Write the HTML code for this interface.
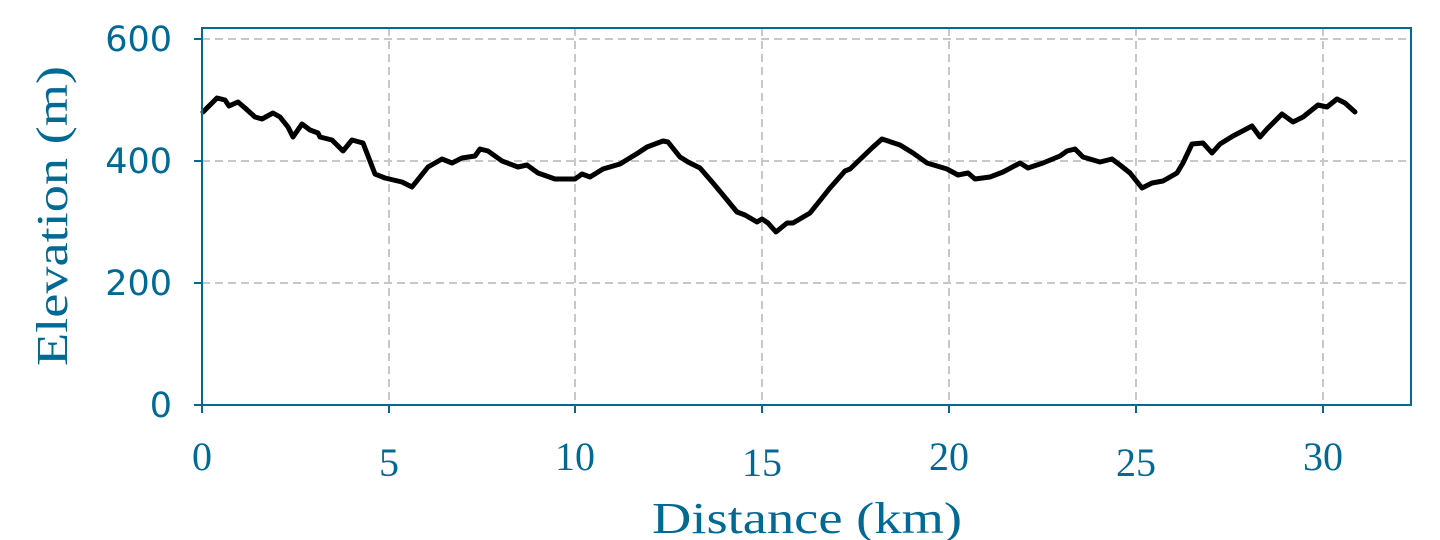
<!DOCTYPE html>
<html><head><meta charset="utf-8"><style>
html,body{margin:0;padding:0;background:#fff;width:1440px;height:540px;overflow:hidden}
</style></head><body>
<svg width="1440" height="540" xmlns="http://www.w3.org/2000/svg">
<g stroke="#c8c8c8" stroke-width="2" stroke-dasharray="8,5">
<line x1="389" y1="28" x2="389" y2="405"/><line x1="575" y1="28" x2="575" y2="405"/>
<line x1="762" y1="28" x2="762" y2="405"/><line x1="949" y1="28" x2="949" y2="405"/>
<line x1="1136" y1="28" x2="1136" y2="405"/><line x1="1323" y1="28" x2="1323" y2="405"/>
<line x1="202" y1="39" x2="1411" y2="39"/><line x1="202" y1="161" x2="1411" y2="161"/>
<line x1="202" y1="283" x2="1411" y2="283"/>
</g>
<polyline fill="none" stroke="#000" stroke-width="5" stroke-linejoin="round" stroke-linecap="round" points="
203,112 217,98 225,100 229,106 238,102 245,108 255,117 262,119 273,113 280,117 288,127 293,137 302,124 310,130 318,133 320,137 332,140 343,151 352,140 363,143 375,174 385,178 402,182 412,187 428,167 442,159 452,163 462,158 475,156 480,149 488,151 502,161 518,167 527,165 538,173 555,179 575,179 582,174 590,177 603,169 620,164 638,153 647,147 663,141 668,142 680,157 688,162 700,168 713,183 723,195 737,212 745,215 757,222 762,219 768,223 776,232 787,223 793,223 810,213 830,188 845,171 850,169 873,147 882,139 900,145 913,153 927,163 947,169 958,175 968,173 975,179 990,177 1003,172 1020,163 1028,168 1043,163 1060,156 1067,151 1075,149 1083,157 1100,162 1112,159 1120,165 1130,173 1142,188 1152,183 1163,181 1177,173 1183,163 1192,144 1203,143 1212,153 1220,144 1233,136 1252,126 1260,137 1267,129 1282,114 1293,122 1303,117 1318,105 1327,107 1337,99 1345,103 1355,112"/>
<rect x="202" y="28" width="1209" height="377" fill="none" stroke="#006994" stroke-width="2"/>
<g stroke="#006994" stroke-width="2">
<line x1="202" y1="405" x2="202" y2="413"/><line x1="389" y1="405" x2="389" y2="413"/><line x1="575" y1="405" x2="575" y2="413"/>
<line x1="762" y1="405" x2="762" y2="413"/><line x1="949" y1="405" x2="949" y2="413"/><line x1="1136" y1="405" x2="1136" y2="413"/><line x1="1323" y1="405" x2="1323" y2="413"/>
<line x1="194" y1="405" x2="202" y2="405"/><line x1="194" y1="283" x2="202" y2="283"/><line x1="194" y1="161" x2="202" y2="161"/><line x1="194" y1="39" x2="202" y2="39"/>
</g>
<g fill="#006994" font-family="DejaVu Sans, Liberation Sans, sans-serif" font-size="35" text-anchor="end">
<text x="172" y="417">0</text><text x="172" y="295">200</text><text x="172" y="173">400</text><text x="172" y="51">600</text>
</g>
<g fill="#006994" font-family="Liberation Serif, serif" font-size="40" text-anchor="middle">
<text x="202" y="470">0</text><text x="389" y="476">5</text><text x="575" y="470">10</text><text x="762" y="476">15</text>
<text x="949" y="470">20</text><text x="1136" y="476">25</text><text x="1323" y="470">30</text>
</g>
<text x="652" y="533" textLength="310" lengthAdjust="spacingAndGlyphs" fill="#006994" font-family="Liberation Serif, serif" font-size="44">Distance (km)</text>
<text transform="translate(67,366) rotate(-90)" textLength="300" lengthAdjust="spacingAndGlyphs" fill="#006994" font-family="Liberation Serif, serif" font-size="44">Elevation (m)</text>
</svg>
</body></html>
